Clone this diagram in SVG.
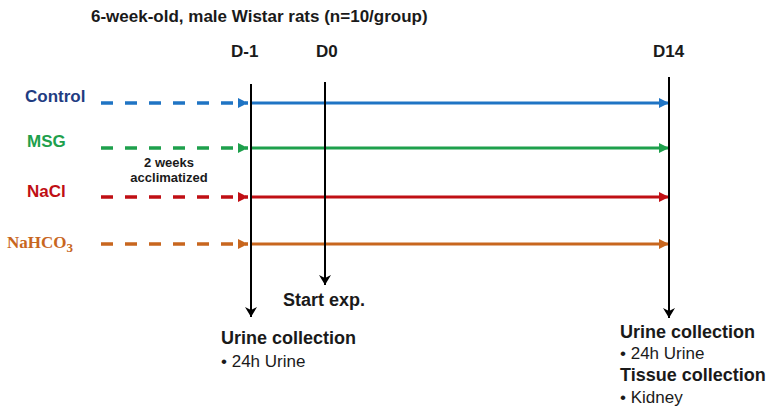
<svg xmlns="http://www.w3.org/2000/svg" width="771" height="412" viewBox="0 0 771 412">
<style>
text{font-family:"Liberation Sans",Arial,sans-serif;fill:#1a1a1a}
.b{font-weight:bold}
.t{font-size:17px;font-weight:bold}
.day{font-size:17px;font-weight:bold}
.grp{font-size:17px;font-weight:bold}
.v{stroke:#000;stroke-width:2;fill:none}
.d{stroke-width:3.5;stroke-dasharray:12 12;fill:none}
.s{stroke-width:3;fill:none}
.h{font-size:18px;font-weight:bold}
.n{font-size:17px}
</style>
<defs>
<marker id="ab" viewBox="0 0 10 10" refX="10" refY="5" markerWidth="10" markerHeight="10" markerUnits="userSpaceOnUse" orient="auto"><path d="M0,0L10,5L0,10z" fill="#1f74c4"/></marker>
<marker id="ag" viewBox="0 0 10 10" refX="10" refY="5" markerWidth="10" markerHeight="10" markerUnits="userSpaceOnUse" orient="auto"><path d="M0,0L10,5L0,10z" fill="#1ea04c"/></marker>
<marker id="ar" viewBox="0 0 10 10" refX="10" refY="5" markerWidth="10" markerHeight="10" markerUnits="userSpaceOnUse" orient="auto"><path d="M0,0L10,5L0,10z" fill="#c00f14"/></marker>
<marker id="ao" viewBox="0 0 10 10" refX="10" refY="5" markerWidth="10" markerHeight="10" markerUnits="userSpaceOnUse" orient="auto"><path d="M0,0L10,5L0,10z" fill="#c8661e"/></marker>
<marker id="ak" viewBox="0 0 10 12" refX="10" refY="6" markerWidth="10" markerHeight="12" markerUnits="userSpaceOnUse" orient="auto"><path d="M0,0L10,6L0,12L3,6z" fill="#000"/></marker>
</defs>
<text x="91" y="22" class="t">6-week-old, male Wistar rats (n=10/group)</text>
<g id="day-labels">
<text x="231" y="57" class="day">D-1</text>
<text x="316" y="57" class="day">D0</text>
<text x="653" y="57" class="day">D14</text>
</g>
<g id="group-control"><text x="25" y="102" class="grp" style="fill:#1f3c82">Control</text></g>
<g id="group-msg"><text x="27" y="147" class="grp" style="fill:#1ea04c">MSG</text></g>
<g id="group-nacl"><text x="27" y="197" class="grp" style="fill:#c00f14">NaCl</text></g>
<g id="group-nahco3"><text x="7" y="248" style="fill:#c8661e;font-family:'Liberation Serif','Times New Roman',serif;font-size:17px;font-weight:bold">NaHCO<tspan dy="4" font-size="13">3</tspan></text></g>
<g id="acclimatized"><text x="169" y="167" text-anchor="middle" class="b" style="font-size:13px">2 weeks</text><text x="169" y="182" text-anchor="middle" class="b" style="font-size:13px">acclimatized</text></g>
<g id="connectors">
<line x1="101" y1="103" x2="248" y2="103" class="d" stroke="#1f74c4" marker-end="url(#ab)"/>
<line x1="250" y1="103" x2="669" y2="103" class="s" stroke="#1f74c4" marker-end="url(#ab)"/>
<line x1="101" y1="148" x2="248" y2="148" class="d" stroke="#1ea04c" marker-end="url(#ag)"/>
<line x1="250" y1="148" x2="669" y2="148" class="s" stroke="#1ea04c" marker-end="url(#ag)"/>
<line x1="101" y1="197" x2="248" y2="197" class="d" stroke="#c00f14" marker-end="url(#ar)"/>
<line x1="250" y1="197" x2="669" y2="197" class="s" stroke="#c00f14" marker-end="url(#ar)"/>
<line x1="101" y1="244" x2="248" y2="244" class="d" stroke="#c8661e" marker-end="url(#ao)"/>
<line x1="250" y1="244" x2="669" y2="244" class="s" stroke="#c8661e" marker-end="url(#ao)"/>
<line x1="251" y1="84" x2="251" y2="317" class="v" marker-end="url(#ak)"/>
<line x1="325" y1="82" x2="325" y2="285" class="v" marker-end="url(#ak)"/>
<line x1="669" y1="77" x2="669" y2="318" class="v" marker-end="url(#ak)"/>
</g>
<g id="start-exp"><text x="283" y="306" class="h">Start  exp.</text></g>
<g id="d-1-collection">
<text x="221" y="344" class="h">Urine collection</text>
<text x="221" y="367" class="n">•  24h Urine</text>
</g>
<g id="d14-collection">
<text x="620" y="338" class="h">Urine collection</text>
<text x="620" y="359" class="n">•  24h Urine</text>
<text x="620" y="381" class="h">Tissue collection</text>
<text x="620" y="403" class="n">•  Kidney</text>
</g>
</svg>
